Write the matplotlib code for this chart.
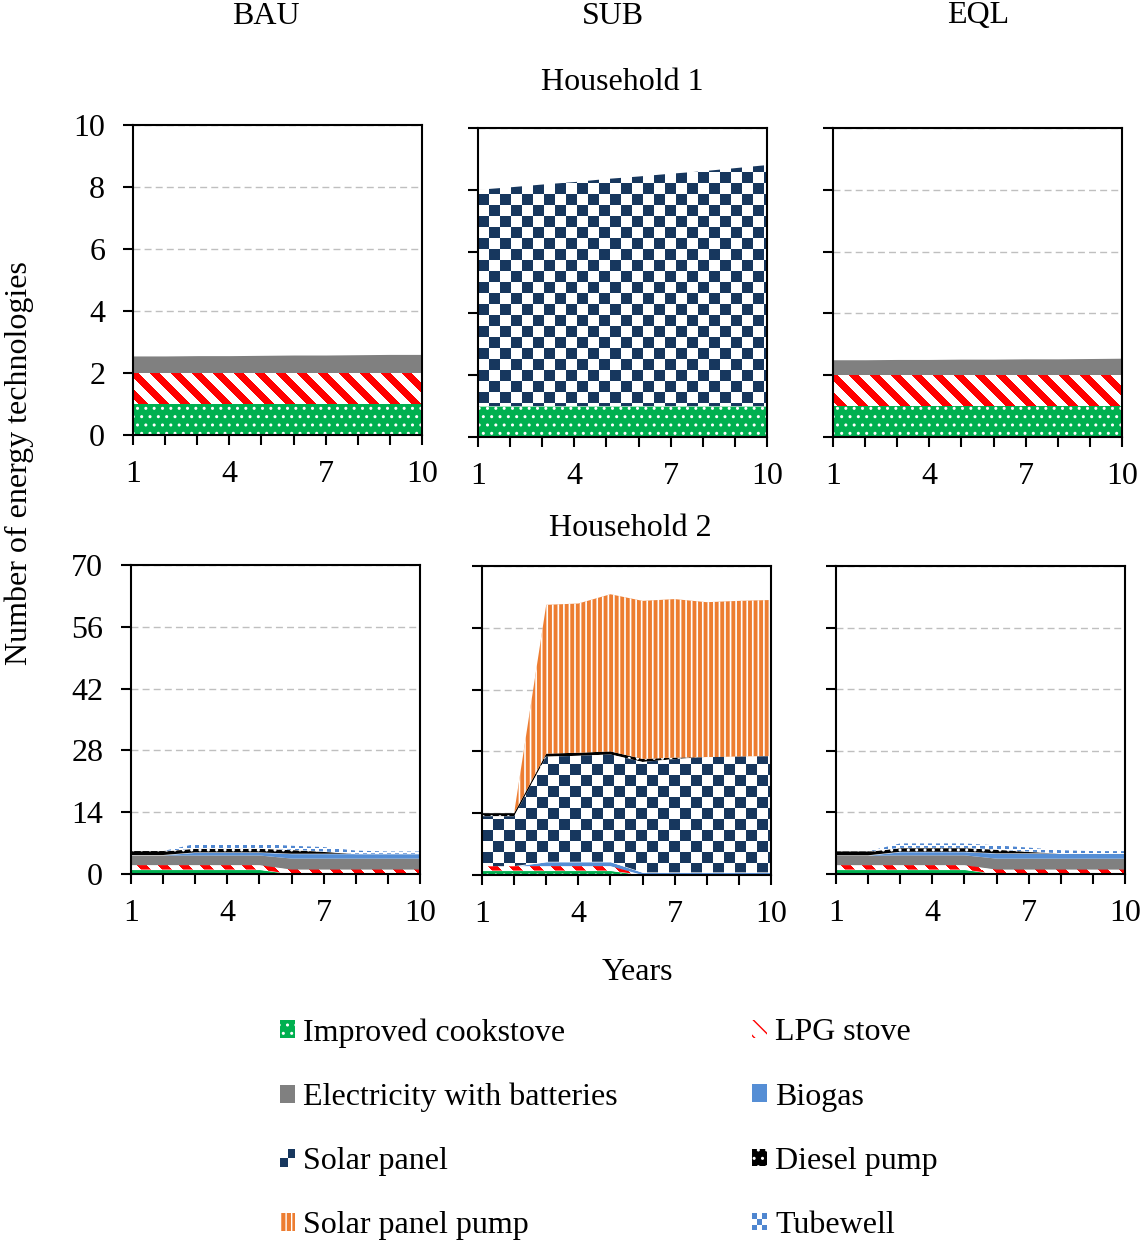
import numpy as np
import matplotlib
matplotlib.use('Agg')
import matplotlib.pyplot as plt
from matplotlib.patches import Patch, Rectangle
from matplotlib.colors import to_rgb
from matplotlib.legend_handler import HandlerBase

plt.rcParams['font.family'] = ['Liberation Serif', 'DejaVu Serif']
FS = 23
plt.rcParams['font.size'] = FS

years = [1, 2, 3, 4, 5, 6, 7, 8, 9, 10]
year_labels = [1, 4, 7, 10]
scenarios = ['BAU', 'SUB', 'EQL']
technologies = ['Improved cookstove', 'LPG stove', 'Electricity with batteries', 'Biogas',
                'Solar panel', 'Diesel pump', 'Solar panel pump', 'Tubewell']

# rows follow the order of `technologies`
hh1_bau = [
    [1, 1, 1, 1, 1, 1, 1, 1, 1, 1],
    [1, 1, 1, 1, 1, 1, 1, 1, 1, 1],
    [0.55, 0.55, 0.56, 0.56, 0.57, 0.58, 0.58, 0.59, 0.6, 0.6],
    [0, 0, 0, 0, 0, 0, 0, 0, 0, 0],
    [0, 0, 0, 0, 0, 0, 0, 0, 0, 0],
    [0, 0, 0, 0, 0, 0, 0, 0, 0, 0],
    [0, 0, 0, 0, 0, 0, 0, 0, 0, 0],
    [0, 0, 0, 0, 0, 0, 0, 0, 0, 0],
]
hh1_sub = [
    [1, 1, 1, 1, 1, 1, 1, 1, 1, 1],
    [0, 0, 0, 0, 0, 0, 0, 0, 0, 0],
    [0, 0, 0, 0, 0, 0, 0, 0, 0, 0],
    [0, 0, 0, 0, 0, 0, 0, 0, 0, 0],
    [7.0, 7.08, 7.17, 7.25, 7.35, 7.43, 7.52, 7.6, 7.7, 7.8],
    [0, 0, 0, 0, 0, 0, 0, 0, 0, 0],
    [0, 0, 0, 0, 0, 0, 0, 0, 0, 0],
    [0, 0, 0, 0, 0, 0, 0, 0, 0, 0],
]
hh1_eql = [
    [1, 1, 1, 1, 1, 1, 1, 1, 1, 1],
    [1, 1, 1, 1, 1, 1, 1, 1, 1, 1],
    [0.5, 0.5, 0.51, 0.51, 0.52, 0.52, 0.53, 0.53, 0.54, 0.55],
    [0, 0, 0, 0, 0, 0, 0, 0, 0, 0],
    [0, 0, 0, 0, 0, 0, 0, 0, 0, 0],
    [0, 0, 0, 0, 0, 0, 0, 0, 0, 0],
    [0, 0, 0, 0, 0, 0, 0, 0, 0, 0],
    [0, 0, 0, 0, 0, 0, 0, 0, 0, 0],
]
hh2_bau = [
    [1, 1, 1, 1, 1, 0, 0, 0, 0, 0],
    [1, 1, 1, 1, 1, 1, 1, 1, 1, 1],
    [2.3, 2.3, 2.3, 2.3, 2.3, 2.6, 2.6, 2.6, 2.6, 2.6],
    [0, 0, 0.6, 0.6, 0.6, 1.0, 1.0, 1.0, 1.0, 1.0],
    [0, 0, 0, 0, 0, 0, 0, 0, 0, 0],
    [0.9, 0.9, 0.9, 0.9, 0.9, 0.9, 0.5, 0, 0, 0],
    [0, 0, 0, 0, 0, 0, 0, 0, 0, 0],
    [0, 0, 1.0, 1.0, 1.0, 0.9, 1.0, 0.7, 0.5, 0.5],
]
hh2_sub = [
    [1, 1, 1, 1, 1, 0, 0, 0, 0, 0],
    [1, 1, 1, 1, 1, 0, 0, 0, 0, 0],
    [0, 0, 0, 0, 0, 0, 0, 0, 0, 0],
    [0, 0, 1.0, 1.0, 1.0, 0.6, 0.6, 0.6, 0.6, 0.6],
    [11.3, 11.3, 23.8, 24.0, 24.3, 25.0, 25.65, 26.1, 26.2, 26.3],
    [0.7, 0.7, 0.7, 0.7, 0.7, 0.7, 0.35, 0, 0, 0],
    [0, 0, 33.7, 33.8, 35.6, 35.8, 35.9, 35.1, 35.3, 35.4],
    [0, 0, 0, 0, 0, 0, 0, 0, 0, 0],
]
hh2_eql = [
    [1, 1, 1, 1, 1, 0, 0, 0, 0, 0],
    [1, 1, 1, 1, 1, 1, 1, 1, 1, 1],
    [2.25, 2.25, 2.35, 2.35, 2.35, 2.6, 2.6, 2.6, 2.6, 2.6],
    [0, 0, 0.7, 0.7, 0.7, 1.1, 1.1, 1.1, 1.1, 1.1],
    [0, 0, 0, 0, 0, 0, 0, 0, 0, 0],
    [0.9, 0.9, 0.9, 0.9, 0.9, 0.9, 0.4, 0, 0, 0],
    [0, 0, 0, 0, 0, 0, 0, 0, 0, 0],
    [0, 0, 1.0, 1.0, 1.0, 0.9, 0.9, 0.7, 0.5, 0.5],
]

GREEN = '#00B050'
RED = '#FF0000'
GRAY = '#808080'
BLUE = '#558ED5'
NAVY = '#17375E'
ORANGE = '#ED7D31'
TUBE = '#4F86D0'

styles = [
    dict(fc=GREEN, ec='white', hatch='..', hlw=1.0),
    dict(fc='white', ec=RED, hatch='\\\\', hlw=4.0, texture='stripes'),
    dict(fc=GRAY, ec=GRAY, hatch=None, hlw=1.0),
    dict(fc=BLUE, ec=BLUE, hatch=None, hlw=1.0),
    dict(fc='white', ec=NAVY, hatch=None, hlw=1.0, texture='checker'),
    dict(fc='black', ec='white', hatch='..', hlw=1.0),
    dict(fc=ORANGE, ec='white', hatch='|||', hlw=1.2),
    dict(fc='white', ec=TUBE, hatch='..', hlw=2.5, texture='specks'),
]

W, H = 1140, 1242
fig = plt.figure(figsize=(W / 100, H / 100), dpi=100)


def axrect(l, r, t, b):
    return [l / W, 1 - b / H, (r - l) / W, (b - t) / H]


def set_hlw(artist, lw):
    try:
        artist.set_hatch_linewidth(lw)
    except AttributeError:
        pass


def make_texture(kind, hpx, wpx):
    rr, cc = np.mgrid[0:hpx, 0:wpx]
    if kind == 'checker':
        mask = ((rr // 11) + (cc // 11)) % 2 == 0
        col = NAVY
    elif kind == 'stripes':
        mask = ((cc - rr) % 21) < 10
        col = RED
    else:
        mask = (((rr % 8) < 3) & ((cc % 8) < 4)) | ((((rr + 4) % 8) < 3) & (((cc + 4) % 8) < 4))
        col = TUBE
    img = np.ones((hpx, wpx, 3))
    img[mask] = to_rgb(col)
    return img


def add_texture(ax, coll, kind, ymax, rect):
    wpx = int(round(rect[2] * W))
    hpx = int(round(rect[3] * H))
    img = make_texture(kind, hpx, wpx)
    im = ax.imshow(img, extent=(1, 10, 0, ymax), origin='upper', aspect='auto',
                   interpolation='nearest', zorder=2.05)
    im.set_clip_path(coll.get_paths()[0], transform=ax.transData)


def draw_panel(rect, data, ymax, ystep, show_ylabels):
    ax = fig.add_axes(rect)
    x = np.asarray(years, float)
    base = np.zeros(len(years))
    for k, vals in enumerate(data):
        vals = np.asarray(vals, float)
        top = base + vals
        st = styles[k]
        if vals.any():
            tex = st.get('texture')
            with plt.rc_context({'hatch.linewidth': st['hlw']}):
                coll = ax.fill_between(x, base, top, facecolor=st['fc'], edgecolor=st['ec'],
                                       hatch=None if tex else st['hatch'], linewidth=0,
                                       zorder=2)
            set_hlw(coll, st['hlw'])
            if tex:
                add_texture(ax, coll, tex, ymax, rect)
        base = top
    ax.set_xlim(1, 10)
    ax.set_ylim(0, ymax)
    ax.set_xticks(year_labels)
    ax.set_xticklabels([str(v) for v in year_labels])
    ax.set_xticks(years, minor=True)
    ax.set_yticks(np.arange(0, ymax + 0.01, ystep))
    ax.tick_params(which='both', direction='out', length=7, width=1.5, labelsize=FS)
    ax.tick_params(axis='x', pad=11)
    ax.tick_params(axis='y', pad=13, labelleft=show_ylabels)
    ax.yaxis.grid(True, color='#BFBFBF', linestyle=(0, (5, 3)), linewidth=1.0)
    ax.set_axisbelow(True)
    for s in ax.spines.values():
        s.set_linewidth(1.5)
        s.set_color('black')
        s.set_zorder(3)
    return ax


draw_panel(axrect(133, 422, 125, 435), hh1_bau, 10, 2, True)
draw_panel(axrect(478, 767, 128, 437), hh1_sub, 10, 2, False)
draw_panel(axrect(833, 1122, 128, 437), hh1_eql, 10, 2, False)
draw_panel(axrect(131, 420, 565, 874), hh2_bau, 70, 14, True)
draw_panel(axrect(482, 771, 566, 875), hh2_sub, 70, 14, False)
draw_panel(axrect(836, 1125, 566, 874), hh2_eql, 70, 14, False)

for name, xc in zip(scenarios, [266, 613, 978]):
    fig.text(xc / W, 1 - 16 / H, name, ha='center', va='center', fontsize=FS)
fig.text(622 / W, 1 - 82 / H, 'Household 1', ha='center', va='center', fontsize=FS)
fig.text(630 / W, 1 - 528 / H, 'Household 2', ha='center', va='center', fontsize=FS)
fig.text(19 / W, 1 - 463 / H, 'Number of energy technologies', rotation=90,
         ha='center', va='center', fontsize=FS)
fig.text(637 / W, 1 - 972 / H, 'Years', ha='center', va='center', fontsize=FS)


class PatternHandler(HandlerBase):
    def __init__(self, color, n):
        super().__init__()
        self.color = color
        self.n = n

    def create_artists(self, legend, orig_handle, xdescent, ydescent, width, height,
                       fontsize, trans):
        arts = []
        n = self.n
        for i in range(n):
            for j in range(n):
                c = self.color if (i + j) % 2 == 0 else 'white'
                arts.append(Rectangle((-xdescent + i * width / n, -ydescent + j * height / n),
                                      width / n, height / n, facecolor=c, edgecolor='none',
                                      transform=trans))
        return arts


class CheckerPatch(Patch):
    pass


class SpeckPatch(Patch):
    pass


handles = []
for k, st in enumerate(styles):
    if st.get('texture') == 'checker':
        h = CheckerPatch(facecolor=NAVY)
    elif st.get('texture') == 'specks':
        h = SpeckPatch(facecolor=TUBE)
    else:
        with plt.rc_context({'hatch.linewidth': st['hlw']}):
            h = Patch(facecolor=st['fc'], edgecolor=st['ec'], hatch=st['hatch'], linewidth=0)
        set_hlw(h, st['hlw'])
    handles.append(h)

order = [0, 2, 4, 6, 1, 3, 5, 7]
leg = fig.legend([handles[i] for i in order], [technologies[i] for i in order],
                 loc='upper left', bbox_to_anchor=(280 / W, 1 - 1018 / H), ncol=2,
                 frameon=False, fontsize=FS, handlelength=0.48, handleheight=0.48,
                 handletextpad=0.25, columnspacing=4.2, labelspacing=1.1, borderpad=0,
                 borderaxespad=0,
                 handler_map={CheckerPatch: PatternHandler(NAVY, 2),
                              SpeckPatch: PatternHandler(TUBE, 3)})

fig.savefig('out.png', dpi=100)
